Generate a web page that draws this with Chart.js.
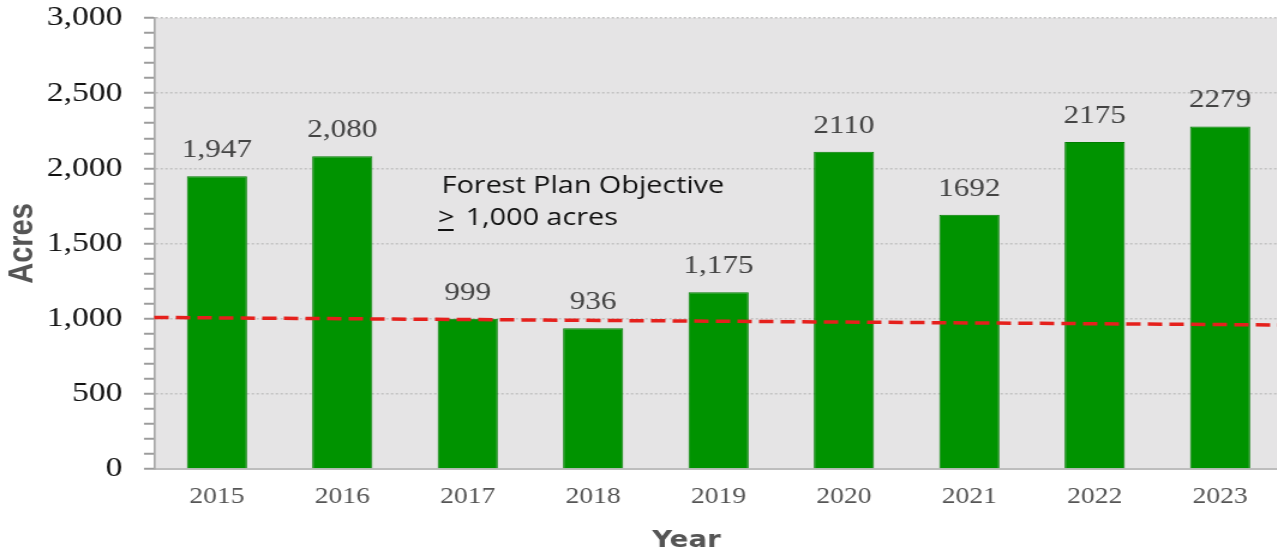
<!DOCTYPE html>
<html>
<head>
<meta charset="utf-8">
<title>Acres treated per year</title>
<script src="https://cdn.jsdelivr.net/npm/chart.js@4"></script>
<style>
  html, body { margin: 0; padding: 0; background: #fff; overflow: hidden; }
  /* chart is laid out narrow and widened by 1.2 */
  #wrap { position: relative; width: 1071px; height: 558px; transform: scaleX(1.2); transform-origin: 0 0; }
</style>
</head>
<body>
<div id="wrap"><canvas id="acresChart"></canvas></div>
<script>
const years = ['2015', '2016', '2017', '2018', '2019', '2020', '2021', '2022', '2023'];
const acres = [1947, 2080, 999, 936, 1175, 2110, 1692, 2175, 2279];
const acreLabels = ['1,947', '2,080', '999', '936', '1,175', '2110', '1692', '2175', '2279'];
// objective reference line, start and end of the plotted span
const objectiveLine = [1008, 958];
const serif = "'Liberation Serif', 'Times New Roman', serif";

// grey plot background
const plotBackground = {
  id: 'plotBackground',
  beforeDraw(chart) {
    const { ctx, chartArea: a } = chart;
    ctx.save();
    ctx.fillStyle = '#e5e4e5';
    ctx.fillRect(a.left, a.top, a.right - a.left, a.bottom - a.top);
    ctx.restore();
  }
};

// value labels over bars, objective note, x axis title
const chartText = {
  id: 'chartText',
  afterDatasetsDraw(chart) {
    const { ctx } = chart;
    const meta = chart.getDatasetMeta(0);
    ctx.save();
    ctx.font = '26px ' + serif;
    ctx.fillStyle = '#444';
    ctx.textAlign = 'center';
    ctx.textBaseline = 'alphabetic';
    meta.data.forEach((bar, i) => {
      ctx.fillText(acreLabels[i], bar.x, bar.y - 19);
    });

    ctx.fillStyle = '#111';
    ctx.textAlign = 'left';
    ctx.font = "24px 'Open Sans', sans-serif";
    ctx.fillText('Forest Plan Objective', 368, 193);
    ctx.fillText('>', 365, 225);
    ctx.fillText('1,000 acres', 388, 225);
    ctx.fillRect(365, 229, 13, 2);

    ctx.fillStyle = '#555';
    ctx.textAlign = 'center';
    ctx.textBaseline = 'middle';
    ctx.font = "bold 23px 'DejaVu Sans', Verdana, sans-serif";
    ctx.fillText('Year', 572, 541);
    ctx.restore();
  }
};

new Chart(document.getElementById('acresChart'), {
  type: 'bar',
  data: {
    labels: years,
    datasets: [
      {
        type: 'bar',
        data: acres,
        backgroundColor: '#009300',
        borderColor: '#007d00',
        borderWidth: 1,
        grouped: false,
        categoryPercentage: 1,
        barPercentage: 0.48,
        order: 1
      },
      {
        type: 'line',
        xAxisID: 'x2',
        data: [{ x: 0, y: objectiveLine[0] }, { x: 1, y: objectiveLine[1] }],
        borderColor: '#e5201c',
        borderWidth: 3.5,
        borderDash: [12, 6],
        pointRadius: 0,
        fill: false,
        clip: false,
        order: 0
      }
    ]
  },
  options: {
    responsive: true,
    maintainAspectRatio: false,
    devicePixelRatio: 1,
    animation: false,
    layout: { padding: { top: 0, right: 2, left: 0, bottom: 0 } },
    plugins: {
      legend: { display: false },
      tooltip: { enabled: false }
    },
    scales: {
      x: {
        type: 'category',
        offset: true,
        grid: { display: false, drawTicks: false },
        border: { display: true, color: '#bdbdbd', width: 2 },
        ticks: {
          color: '#555',
          padding: 14,
          font: { family: serif, size: 23 }
        },
        afterFit(scale) { scale.height = 89; }
      },
      x2: {
        type: 'linear',
        display: false,
        offset: false,
        min: 0,
        max: 1
      },
      y: {
        min: 0,
        max: 3000,
        ticks: {
          stepSize: 100,
          autoSkip: false,
          color: '#111',
          padding: 18,
          font: { family: serif, size: 28 },
          callback: v => (v % 500 === 0 ? v.toLocaleString('en-US') : '')
        },
        grid: {
          color: c => (c.tick && c.tick.value % 500 === 0 && c.tick.value > 0 ? '#c2c2c2' : 'rgba(0,0,0,0)'),
          lineWidth: 1.5,
          tickColor: '#9c9c9c',
          tickLength: 8.5,
          tickWidth: 2
        },
        border: { display: true, color: '#a9a9a9', width: 1.7, dash: [2, 2] },
        title: {
          display: true,
          text: 'Acres',
          color: '#555',
          padding: { top: 2, bottom: 0 },
          font: { family: "'Liberation Sans Narrow', 'Liberation Sans', sans-serif", size: 29, weight: 'bold' }
        },
        afterFit(scale) {
          scale.width = 128.5;
          scale.paddingTop = 18;
        }
      }
    }
  },
  plugins: [plotBackground, chartText]
});
</script>
</body>
</html>
